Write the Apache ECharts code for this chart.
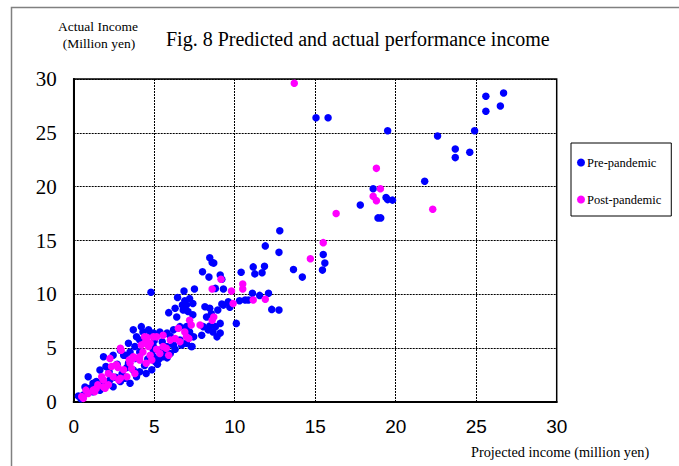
<!DOCTYPE html>
<html>
<head>
<meta charset="utf-8">
<script src="https://cdn.jsdelivr.net/npm/echarts@6/dist/echarts.min.js"></script>
<style>
  html, body { margin: 0; padding: 0; background: #fff; }
  #chart { width: 679px; height: 466px; }
</style>
</head>
<body>
<div id="chart"></div>
<script>
// Projected vs. actual performance income, million yen: [projected, actual]
const prePandemic = [
  [15.05,26.4],[15.8,26.4],[19.5,25.2],[22.6,24.7],[24.9,25.2],[25.6,28.4],[26.7,28.7],[25.6,27.0],
  [26.5,27.5],[23.7,23.5],[23.7,22.7],[24.6,23.2],[21.8,20.5],[18.6,19.8],[19.4,19.0],[19.5,18.8],
  [19.8,18.75],[17.8,18.3],[18.9,17.1],[19.07,17.1],[15.5,13.7],[15.6,12.9],[15.45,12.25],
  [12.8,15.9],[11.9,14.5],[12.75,13.9],[8.45,13.4],[8.6,12.95],[8.7,12.9],[11.15,12.55],[11.85,12.6],
  [13.65,12.3],[14.2,11.6],[10.4,12.05],[8.0,12.1],[11.25,11.9],[11.7,12.0],[8.4,11.6],[9.1,11.8],
  [9.2,11.4],[9.3,10.5],[8.8,10.55],[4.8,10.2],[6.85,10.3],[7.5,10.5],
  [11.1,10.1],[11.55,9.9],[12.1,10.1],[12.3,8.6],[12.75,8.55],
  [9.2,9.1],[9.6,9.3],[9.7,8.8],[10.3,9.4],[10.65,9.47],[10.85,9.47],[10.1,7.3],
  [8.8,7.0],[9.1,7.3],[9.1,6.4],[8.9,6.05],
  [6.45,9.7],[6.9,9.4],[7.2,9.6],[7.4,9.15],[7.0,9.0],[6.8,8.55],[7.1,8.4],[7.4,8.1],[6.3,8.7],
  [5.9,8.3],[6.4,7.9],[6.75,9.0],
  [8.15,8.85],[8.45,8.7],[8.25,7.9],[8.55,8.2],[8.95,8.55],[9.3,9.0],
  [8.05,7.0],[8.45,7.05],[8.65,6.5],[8.35,6.7],[7.95,6.2],[7.35,5.15],
  [0.29,0.56],[0.9,2.35],[1.63,2.97],[1.85,4.2],[0.7,1.4],[1.0,1.27],[1.2,1.74],[2.45,4.35],
  [2.9,4.8],[3.4,5.45],[3.9,6.05],[4.3,6.5],[4.75,6.4],[3.1,4.35],[3.4,3.6],[3.8,4.05],[4.1,4.65],
  [4.95,4.8],[5.05,3.75],[4.85,3.0],[4.5,2.65],[2.25,2.05],[2.45,1.42],[2.9,1.9],[3.5,1.74],
  [3.9,2.35],[4.1,2.8],[3.7,2.97],[1.2,0.95],[1.63,1.1],[0.6,0.65],[1.85,1.9],[1.5,1.6],
  [4.2,7.0],[3.7,6.7],[4.65,6.7],[4.95,6.4],[5.35,6.5],[5.8,6.4],[6.2,6.7],[6.6,7.0],[7.0,7.0],
  [7.2,6.5],[7.45,6.05],
  [4.1,5.75],[4.5,5.45],[3.8,5.15],[3.5,4.65],[3.2,4.35],[4.95,5.15],[5.35,4.8],[5.8,5.15],
  [6.2,5.3],[6.6,5.75],[7.0,5.45],[7.3,5.15],[5.55,4.2],[6.0,4.5],[4.95,4.2],
  [2.0,3.3],[2.2,2.8],[2.6,2.3],[3.0,2.6],[3.3,3.2],[2.7,3.5],[4.4,3.4],[4.6,4.0],[5.3,4.0],
  [5.7,4.7],[6.3,4.9],[6.7,5.3],[5.0,5.7],[5.5,5.6],[6.0,6.1],[3.2,2.2],[2.0,1.5],[1.4,1.9],
  [0.8,0.9],[0.45,0.3],[5.2,3.5],[5.8,4.1]
];

const postPandemic = [
  [13.7,29.6],[18.8,21.7],[19.05,19.8],[18.6,19.1],[18.8,18.7],[16.3,17.5],[22.3,17.9],[15.5,14.8],
  [14.7,13.3],
  [9.15,11.4],[8.6,10.5],[10.5,10.95],[10.5,10.5],[9.8,10.3],[9.9,9.15],[11.15,9.47],[11.9,9.55],
  [8.6,7.6],[8.7,7.9],[7.85,7.15],[7.2,7.6],[7.3,7.15],[6.5,6.85],[6.9,6.5],[5.55,6.2],[5.15,6.05],
  [6.0,5.75],[6.3,5.9],[6.6,5.6],[7.0,6.05],[7.15,5.9],
  [4.4,5.45],[4.65,5.15],[4.3,4.65],[4.75,4.35],[5.35,4.5],[5.9,4.35],[4.1,4.2],[3.7,4.2],[2.95,4.8],
  [5.15,4.9],[5.55,5.15],[5.75,5.0],[4.55,6.0],
  [4.2,5.3],[4.75,5.45],[4.4,6.05],[4.95,6.05],[4.5,3.6],[4.85,3.9],
  [3.5,3.6],[3.7,4.05],[4.1,3.9],[3.8,2.65],[3.1,3.0],[2.8,2.05],[2.45,2.35],[3.3,2.35],
  [2.25,4.05],[2.9,5.0],[2.35,3.3],[2.65,3.45],
  [1.5,1.6],[1.85,2.05],[1.74,2.35],[1.95,1.27],[2.15,2.65],
  [0.6,0.34],[0.9,0.8],[0.76,1.1],[1.3,0.95],[0.5,0.5],[1.85,1.4],[2.15,1.6],[1.2,1.1],[1.4,1.25],
  [2.9,2.2],[2.75,3.2],[3.45,3.9],[3.6,3.1]
];

const seriesNames = ['Pre-pandemic', 'Post-pandemic'];
const axisTicks = [0, 5, 10, 15, 20, 25, 30];

const serif = '"Liberation Serif", "Times New Roman", serif';
const sans = '"Liberation Sans", Arial, sans-serif';

const chart = echarts.init(document.getElementById('chart'), null, { renderer: 'svg' });

chart.setOption({
  backgroundColor: '#fff',
  animation: false,
  title: {
    text: 'Fig. 8 Predicted and actual performance income',
    left: 166, top: 29, padding: 0,
    textStyle: { fontFamily: serif, fontSize: 20, fontWeight: 'normal', color: '#000' }
  },
  graphic: [
    {
      type: 'rect',
      shape: { x: 11.5, y: 7.5, width: 720, height: 520 },
      style: { fill: 'none', stroke: '#808080', lineWidth: 1.5 },
      silent: true
    },
    {
      type: 'text', x: 98, y: 26,
      style: {
        text: 'Actual Income', fill: '#000', font: '13.5px ' + serif,
        textAlign: 'center', textVerticalAlign: 'middle'
      }
    },
    {
      type: 'text', x: 99, y: 43,
      style: {
        text: '(Million yen)', fill: '#000', font: '13.5px ' + serif,
        textAlign: 'center', textVerticalAlign: 'middle'
      }
    },
    {
      type: 'text', x: 471, y: 452,
      style: {
        text: 'Projected income (million yen)', fill: '#000', font: '14.3px ' + serif,
        textAlign: 'left', textVerticalAlign: 'middle'
      }
    }
  ],
  legend: {
    data: seriesNames,
    orient: 'vertical',
    left: 571, top: 143,
    padding: [13, 10, 10, 6],
    itemGap: 24,
    itemWidth: 8, itemHeight: 8,
    icon: 'circle',
    borderColor: '#000', borderWidth: 1,
    backgroundColor: '#fff',
    textStyle: { fontFamily: serif, fontSize: 12.5, color: '#000', padding: [0, 0, 0, -3] }
  },
  grid: { left: 73.7, top: 79, width: 483, height: 323, show: true, borderColor: '#000', borderWidth: 1.5 },
  xAxis: {
    type: 'value',
    min: axisTicks[0], max: axisTicks[axisTicks.length - 1], interval: 5,
    axisLine: { show: true, onZero: false, lineStyle: { color: '#000', width: 2 } },
    axisTick: { show: false },
    axisLabel: { color: '#000', fontFamily: sans, fontSize: 19, margin: 15 },
    splitLine: { show: true, lineStyle: { color: '#000', type: [2, 1], width: 1 } }
  },
  yAxis: {
    type: 'value',
    min: axisTicks[0], max: axisTicks[axisTicks.length - 1], interval: 5,
    axisLine: { show: true, onZero: false, lineStyle: { color: '#000', width: 2 } },
    axisTick: { show: false },
    axisLabel: { color: '#000', fontFamily: serif, fontSize: 21, margin: 17 },
    splitLine: { show: true, lineStyle: { color: '#000', type: [2, 1], width: 1 } }
  },
  series: [
    {
      name: seriesNames[0], type: 'scatter', data: prePandemic,
      symbol: 'circle', symbolSize: 7.5,
      itemStyle: { color: '#0000FF', opacity: 1 }
    },
    {
      name: seriesNames[1], type: 'scatter', data: postPandemic,
      symbol: 'circle', symbolSize: 7.5,
      itemStyle: { color: '#FF00FF', opacity: 1 }
    }
  ]
});
</script>
</body>
</html>
